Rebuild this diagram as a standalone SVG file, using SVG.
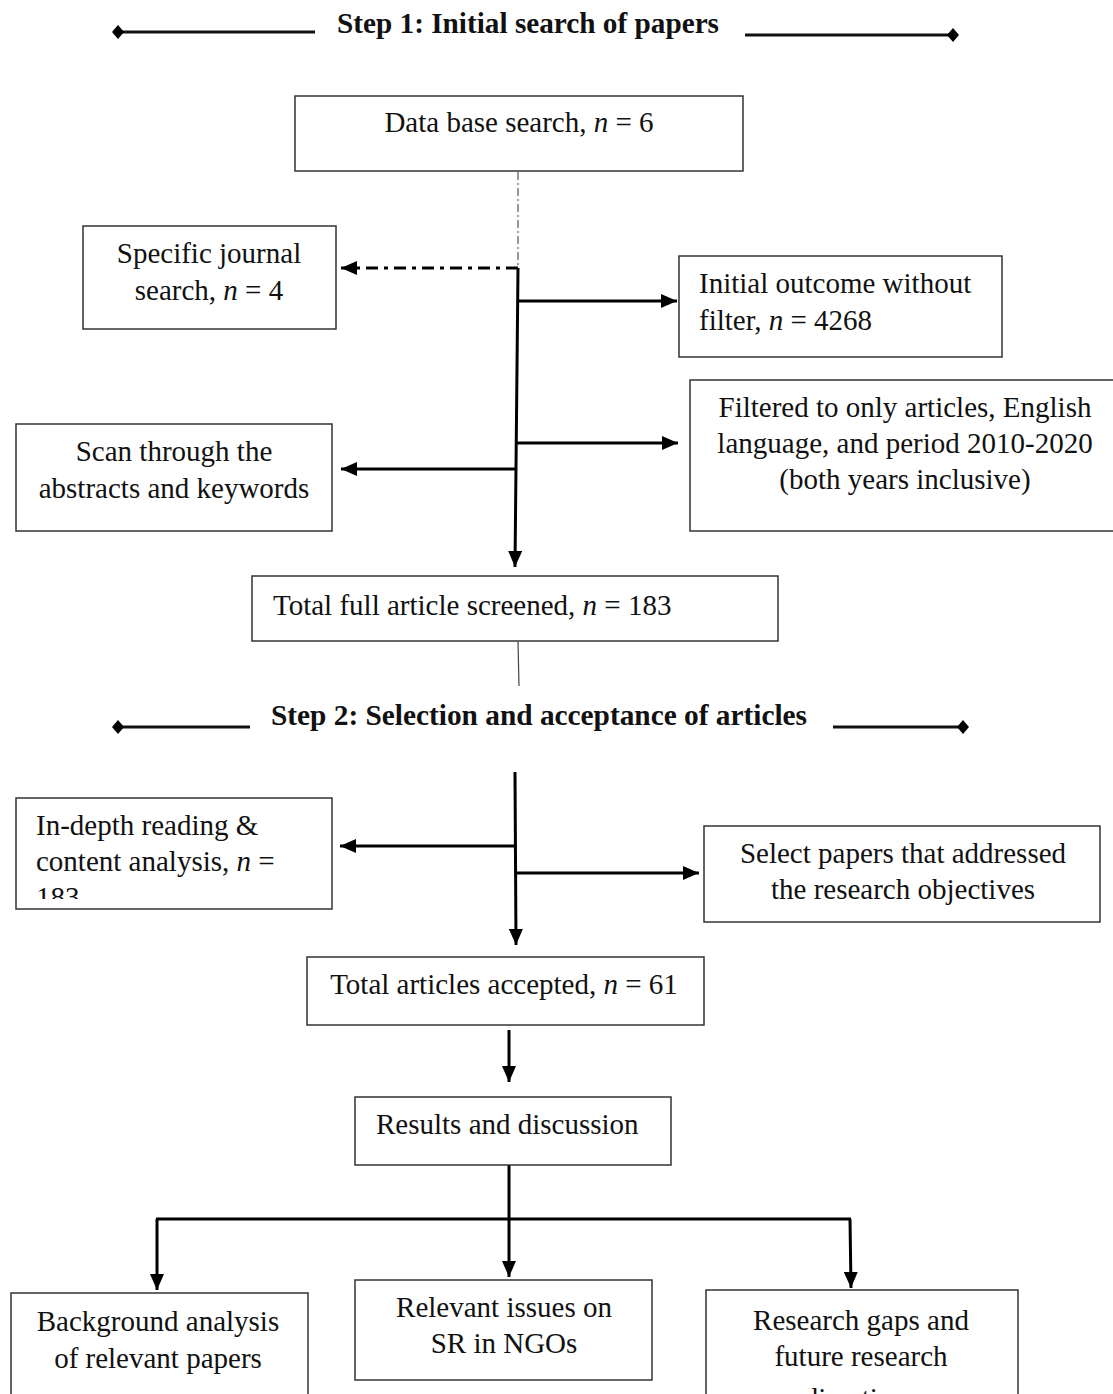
<svg xmlns="http://www.w3.org/2000/svg" width="1113" height="1394" viewBox="0 0 1113 1394">
  <style>
    .box { fill: #ffffff; stroke: #333333; stroke-width: 1.5; }
    .t { font-family: "Liberation Serif", "Times New Roman", serif; font-size: 29px; fill: #111111; }
    .c { text-anchor: middle; }
    .h { font-family: "Liberation Serif", "Times New Roman", serif; font-size: 29px; font-weight: bold; fill: #111111; }
    .i { font-style: italic; }
    .rule { stroke: #111111; stroke-width: 3; fill: none; }
    .edge { stroke: #000000; stroke-width: 3; fill: none; }
    .thin { stroke: #444444; stroke-width: 1.2; fill: none; }
  </style>
  <defs>
    <marker id="arrow" viewBox="0 0 16 14" refX="16" refY="7" markerWidth="16" markerHeight="14" markerUnits="userSpaceOnUse" orient="auto">
      <path d="M0,0 L16,7 L0,14 Z" fill="#000000"/>
    </marker>
    <marker id="diamond" viewBox="0 0 12 14" refX="6" refY="7" markerWidth="12" markerHeight="14" markerUnits="userSpaceOnUse" orient="auto">
      <path d="M0,7 L6,0 L12,7 L6,14 Z" fill="#000000"/>
    </marker>
    <clipPath id="clipIndepth">
      <rect x="16" y="797" width="316" height="102"/>
    </clipPath>
  </defs>

  <!-- Step headings -->
  <g id="step1">
    <line class="rule" x1="118" y1="32" x2="315" y2="32" marker-start="url(#diamond)"/>
    <line class="rule" x1="745" y1="35" x2="953" y2="35" marker-end="url(#diamond)"/>
    <text class="h" x="337" y="33" textLength="382" lengthAdjust="spacingAndGlyphs">Step 1: Initial search of papers</text>
  </g>
  <g id="step2">
    <line class="rule" x1="118" y1="727" x2="250" y2="727" marker-start="url(#diamond)"/>
    <line class="rule" x1="833" y1="727" x2="963" y2="727" marker-end="url(#diamond)"/>
    <text class="h" x="271" y="725" textLength="536" lengthAdjust="spacingAndGlyphs">Step 2: Selection and acceptance of articles</text>
  </g>

  <!-- Connectors -->
  <g id="connectors">
    <line x1="518" y1="172" x2="518" y2="268" stroke="#555555" stroke-width="1.2" stroke-dasharray="8 3 2 3"/>
    <line x1="518" y1="268" x2="341" y2="268" stroke="#000000" stroke-width="3" stroke-dasharray="12 6 4 6" marker-end="url(#arrow)"/>
    <line class="edge" x1="518" y1="268" x2="515" y2="567" marker-end="url(#arrow)"/>
    <line class="edge" x1="517" y1="301" x2="677" y2="301" marker-end="url(#arrow)"/>
    <line class="edge" x1="516" y1="443" x2="678" y2="443" marker-end="url(#arrow)"/>
    <line class="edge" x1="516" y1="469" x2="341" y2="469" marker-end="url(#arrow)"/>
    <line class="thin" x1="518" y1="642" x2="519" y2="686"/>

    <line class="edge" x1="515" y1="772" x2="516" y2="945" marker-end="url(#arrow)"/>
    <line class="edge" x1="515" y1="846" x2="340" y2="846" marker-end="url(#arrow)"/>
    <line class="edge" x1="516" y1="873" x2="699" y2="873" marker-end="url(#arrow)"/>

    <line class="edge" x1="509" y1="1030" x2="509" y2="1082" marker-end="url(#arrow)"/>
    <line class="edge" x1="509" y1="1165" x2="509" y2="1277" marker-end="url(#arrow)"/>
    <line class="edge" x1="156" y1="1219" x2="851" y2="1219"/>
    <line class="edge" x1="157" y1="1219" x2="157" y2="1290" marker-end="url(#arrow)"/>
    <line class="edge" x1="850" y1="1219" x2="851" y2="1288" marker-end="url(#arrow)"/>
  </g>

  <!-- Nodes -->
  <g id="database">
    <rect class="box" x="295" y="96" width="448" height="75"/>
    <text class="t c" x="519" y="132">Data base search, <tspan class="i">n</tspan> = 6</text>
  </g>
  <g id="journal">
    <rect class="box" x="83" y="226" width="253" height="103"/>
    <text class="t c" x="209" y="263">Specific journal</text>
    <text class="t c" x="209" y="300">search, <tspan class="i">n</tspan> = 4</text>
  </g>
  <g id="initial">
    <rect class="box" x="679" y="256" width="323" height="101"/>
    <text class="t" x="699" y="293">Initial outcome without</text>
    <text class="t" x="699" y="330">filter, <tspan class="i">n</tspan> = 4268</text>
  </g>
  <g id="filtered">
    <rect class="box" x="690" y="380" width="430" height="151"/>
    <text class="t c" x="905" y="417">Filtered to only articles, English</text>
    <text class="t c" x="905" y="453">language, and period 2010-2020</text>
    <text class="t c" x="905" y="489">(both years inclusive)</text>
  </g>
  <g id="scan">
    <rect class="box" x="16" y="424" width="316" height="107"/>
    <text class="t c" x="174" y="461">Scan through the</text>
    <text class="t c" x="174" y="498">abstracts and keywords</text>
  </g>
  <g id="screened">
    <rect class="box" x="252" y="576" width="526" height="65"/>
    <text class="t" x="273" y="615">Total full article screened, <tspan class="i">n</tspan> = 183</text>
  </g>
  <g id="indepth">
    <rect class="box" x="16" y="798" width="316" height="111"/>
    <g clip-path="url(#clipIndepth)">
      <text class="t" x="36" y="835">In-depth reading &amp;</text>
      <text class="t" x="36" y="871">content analysis, <tspan class="i">n</tspan> =</text>
      <text class="t" x="36" y="907">183</text>
    </g>
  </g>
  <g id="select">
    <rect class="box" x="704" y="826" width="396" height="96"/>
    <text class="t c" x="903" y="863">Select papers that addressed</text>
    <text class="t c" x="903" y="899">the research objectives</text>
  </g>
  <g id="accepted">
    <rect class="box" x="307" y="957" width="397" height="68"/>
    <text class="t c" x="504" y="994">Total articles accepted, <tspan class="i">n</tspan> = 61</text>
  </g>
  <g id="results">
    <rect class="box" x="355" y="1097" width="316" height="68"/>
    <text class="t" x="376" y="1134">Results and discussion</text>
  </g>
  <g id="background">
    <rect class="box" x="11" y="1293" width="297" height="120"/>
    <text class="t c" x="158" y="1331">Background analysis</text>
    <text class="t c" x="158" y="1368">of relevant papers</text>
  </g>
  <g id="issues">
    <rect class="box" x="355" y="1280" width="297" height="100"/>
    <text class="t c" x="504" y="1317">Relevant issues on</text>
    <text class="t c" x="504" y="1353">SR in NGOs</text>
  </g>
  <g id="gaps">
    <rect class="box" x="706" y="1290" width="312" height="130"/>
    <text class="t c" x="861" y="1330">Research gaps and</text>
    <text class="t c" x="861" y="1366">future research</text>
    <text class="t c" x="861" y="1408">directions</text>
  </g>
</svg>
